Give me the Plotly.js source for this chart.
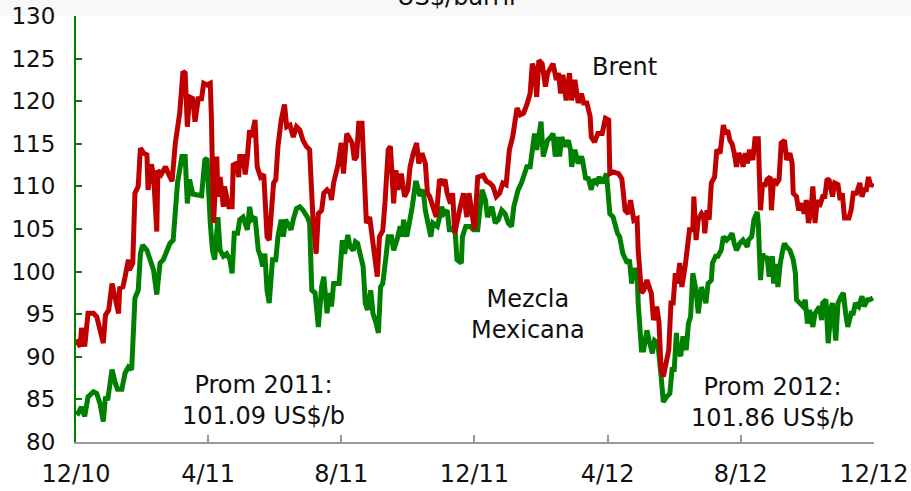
<!DOCTYPE html>
<html>
<head>
<meta charset="utf-8">
<script src="https://cdn.plot.ly/plotly-3.0.1.min.js"></script>
<style>
html,body{margin:0;padding:0;background:#fff;}
#chart{width:911px;height:491px;}
</style>
</head>
<body>
<div id="chart"></div>
<script>
// ---- Data ----
const brentDates = ['2010-12-01','2010-12-05','2010-12-06','2010-12-09','2010-12-12','2010-12-17','2010-12-20','2010-12-23','2010-12-26','2010-12-28','2010-12-31',
'2011-01-03','2011-01-06','2011-01-09','2011-01-10','2011-01-13','2011-01-15','2011-01-18','2011-01-19','2011-01-22','2011-01-24','2011-01-27','2011-01-29',
'2011-02-01','2011-02-04','2011-02-05','2011-02-08','2011-02-10','2011-02-13','2011-02-14','2011-02-17','2011-02-21','2011-02-24','2011-02-27',
'2011-03-02','2011-03-05','2011-03-06','2011-03-09','2011-03-11','2011-03-13','2011-03-15','2011-03-18','2011-03-20','2011-03-23','2011-03-26','2011-03-28','2011-03-31',
'2011-04-03','2011-04-04','2011-04-06','2011-04-09','2011-04-10','2011-04-12','2011-04-15','2011-04-16','2011-04-20','2011-04-23','2011-04-24','2011-04-27','2011-04-29','2011-04-30',
'2011-05-03','2011-05-05','2011-05-07','2011-05-09','2011-05-11','2011-05-14','2011-05-16','2011-05-19','2011-05-22','2011-05-23','2011-05-25','2011-05-27','2011-05-29','2011-05-31',
'2011-06-02','2011-06-04','2011-06-07','2011-06-10','2011-06-12','2011-06-15','2011-06-18','2011-06-21','2011-06-24','2011-06-27','2011-06-30',
'2011-07-03','2011-07-06','2011-07-09','2011-07-11','2011-07-14','2011-07-16','2011-07-19','2011-07-22','2011-07-23','2011-07-25','2011-07-28','2011-07-29',
'2011-08-01','2011-08-03','2011-08-06','2011-08-08','2011-08-11','2011-08-13','2011-08-15','2011-08-17','2011-08-20','2011-08-22','2011-08-24','2011-08-27','2011-08-30',
'2011-09-01','2011-09-03','2011-09-05','2011-09-08','2011-09-10','2011-09-13','2011-09-15','2011-09-18','2011-09-20','2011-09-22','2011-09-25','2011-09-28',
'2011-10-01','2011-10-03','2011-10-06','2011-10-09','2011-10-11','2011-10-14','2011-10-17','2011-10-19','2011-10-21','2011-10-24','2011-10-27','2011-10-30',
'2011-11-02','2011-11-04','2011-11-06','2011-11-09','2011-11-11','2011-11-13','2011-11-16','2011-11-18','2011-11-21','2011-11-24','2011-11-26','2011-11-28',
'2011-12-01','2011-12-04','2011-12-09','2011-12-12','2011-12-15','2011-12-18','2011-12-21','2011-12-24','2011-12-27','2011-12-30',
'2012-01-02','2012-01-05','2012-01-09','2012-01-12','2012-01-15','2012-01-18','2012-01-21','2012-01-23','2012-01-25','2012-01-27','2012-01-29',
'2012-02-01','2012-02-04','2012-02-06','2012-02-08','2012-02-11','2012-02-14','2012-02-16','2012-02-18','2012-02-20','2012-02-23','2012-02-26','2012-02-28',
'2012-03-02','2012-03-05','2012-03-08','2012-03-10','2012-03-13','2012-03-16','2012-03-17','2012-03-20','2012-03-23','2012-03-27','2012-03-30',
'2012-04-02','2012-04-03','2012-04-06','2012-04-11','2012-04-14','2012-04-17','2012-04-20','2012-04-22','2012-04-25','2012-04-28','2012-04-29',
'2012-05-02','2012-05-04','2012-05-07','2012-05-10','2012-05-11','2012-05-13','2012-05-16','2012-05-18','2012-05-20','2012-05-22','2012-05-24','2012-05-27','2012-05-29','2012-05-31',
'2012-06-02','2012-06-04','2012-06-06','2012-06-08','2012-06-11','2012-06-13','2012-06-15','2012-06-18','2012-06-19','2012-06-21','2012-06-23','2012-06-26','2012-06-28','2012-06-29',
'2012-07-01','2012-07-03','2012-07-05','2012-07-08','2012-07-10','2012-07-13','2012-07-16','2012-07-18','2012-07-20','2012-07-22','2012-07-24','2012-07-26','2012-07-28','2012-07-30',
'2012-08-02','2012-08-03','2012-08-05','2012-08-07','2012-08-09','2012-08-12','2012-08-14','2012-08-17','2012-08-19','2012-08-21','2012-08-23','2012-08-25','2012-08-28','2012-08-29','2012-08-31',
'2012-09-03','2012-09-05','2012-09-07','2012-09-10','2012-09-12','2012-09-15','2012-09-17','2012-09-18','2012-09-21','2012-09-23','2012-09-26','2012-09-28','2012-09-30',
'2012-10-02','2012-10-04','2012-10-06','2012-10-08','2012-10-10','2012-10-12','2012-10-15','2012-10-17','2012-10-19','2012-10-21','2012-10-24','2012-10-26','2012-10-29','2012-10-31',
'2012-11-02','2012-11-04','2012-11-08','2012-11-10','2012-11-12','2012-11-15','2012-11-18','2012-11-20','2012-11-22','2012-11-24','2012-11-26','2012-11-28','2012-11-30'];
const brentValues = [92.0,91.2,93.4,91.2,95.1,95.1,94.7,93.1,91.6,94.9,95.5,
98.6,97.0,95.1,98.0,98.2,99.4,101.4,100.2,101.0,109.2,110.0,114.5,
113.9,113.7,109.6,112.6,111.4,104.7,111.9,111.4,112.3,111.4,110.6,
115.1,118.2,118.6,123.5,123.3,117.0,120.5,120.3,117.6,120.3,120.3,122.1,121.9,
122.1,118.2,105.7,113.5,108.8,111.1,107.6,110.0,107.6,107.6,112.5,112.7,111.1,113.5,
113.5,111.4,113.5,116.6,115.8,117.8,112.3,111.1,111.4,108.8,104.1,103.7,107.6,110.4,
110.8,114.7,117.8,119.6,117.0,117.2,115.8,117.0,116.6,115.4,114.7,
114.3,106.4,102.1,106.8,107.2,109.2,109.6,109.2,108.4,110.4,111.9,112.5,
115.1,111.5,116.2,115.8,115.1,113.1,113.5,117.4,117.4,111.5,105.7,106.4,103.3,
101.0,99.4,104.1,104.8,108.0,114.3,114.7,108.0,111.9,109.6,111.5,108.8,
109.6,112.3,113.9,115.1,112.7,113.9,112.7,109.2,108.8,107.6,106.4,110.8,
110.4,110.8,109.2,108.0,109.2,104.5,106.8,107.6,109.2,106.4,109.2,107.2,
104.9,111.1,111.3,110.6,110.4,110.0,108.8,109.2,110.4,110.2,
114.3,115.8,119.2,118.4,118.6,119.6,120.9,124.4,123.7,120.5,124.8,
124.4,121.7,123.3,123.7,124.4,122.5,123.3,120.9,123.1,120.1,123.3,120.1,
122.5,119.8,120.9,119.8,119.8,118.2,115.8,115.2,116.2,116.2,118.0,
117.8,111.5,111.7,111.5,110.9,107.2,106.8,108.4,106.0,106.2,102.5,
97.5,97.8,99.0,97.8,97.5,94.3,95.9,94.1,88.5,87.7,89.3,90.8,96.3,96.3,
99.8,98.6,101.0,98.2,100.6,102.9,104.9,104.9,108.8,103.7,106.1,106.8,106.4,104.5,
107.2,106.1,110.4,111.1,114.3,113.9,117.2,116.2,116.6,115.4,115.0,113.9,112.3,113.9,
113.1,112.3,113.9,112.7,114.3,113.1,115.6,115.6,107.2,110.4,110.0,110.8,111.1,107.2,110.8,
110.4,110.8,115.1,115.4,113.1,113.9,112.7,109.2,108.8,107.2,108.0,106.8,108.4,
105.7,106.8,110.0,105.7,108.4,107.6,108.8,108.8,110.9,110.7,108.8,110.4,110.2,108.4,
109.2,106.3,106.3,107.2,109.2,109.2,110.4,108.8,109.6,109.6,111.1,110.0,110.4];

const mezclaDates = ['2010-12-01','2010-12-03','2010-12-06','2010-12-09','2010-12-12','2010-12-17','2010-12-20','2010-12-23','2010-12-26','2010-12-28','2010-12-30',
'2011-01-03','2011-01-06','2011-01-08','2011-01-12','2011-01-15','2011-01-18','2011-01-21','2011-01-24','2011-01-27','2011-01-29','2011-01-31',
'2011-02-04','2011-02-07','2011-02-10','2011-02-13','2011-02-16','2011-02-19','2011-02-22','2011-02-25','2011-02-28',
'2011-03-02','2011-03-04','2011-03-08','2011-03-11','2011-03-13','2011-03-15','2011-03-18','2011-03-23','2011-03-26','2011-03-29','2011-03-31',
'2011-04-03','2011-04-05','2011-04-07','2011-04-10','2011-04-12','2011-04-15','2011-04-18','2011-04-21','2011-04-23','2011-04-25','2011-04-28','2011-04-30',
'2011-05-03','2011-05-07','2011-05-09','2011-05-11','2011-05-14','2011-05-17','2011-05-19','2011-05-21','2011-05-23','2011-05-25','2011-05-27','2011-05-29','2011-05-30',
'2011-06-02','2011-06-04','2011-06-07','2011-06-09','2011-06-11','2011-06-13','2011-06-16','2011-06-18','2011-06-21','2011-06-24','2011-06-27',
'2011-07-01','2011-07-03','2011-07-05','2011-07-08','2011-07-11','2011-07-13','2011-07-14','2011-07-16','2011-07-19','2011-07-21','2011-07-23','2011-07-25','2011-07-28','2011-07-30',
'2011-08-02','2011-08-04','2011-08-07','2011-08-09','2011-08-12','2011-08-14','2011-08-16','2011-08-19','2011-08-21','2011-08-23','2011-08-25','2011-08-28','2011-08-30',
'2011-09-02','2011-09-04','2011-09-06','2011-09-08','2011-09-11','2011-09-13','2011-09-16','2011-09-18','2011-09-21','2011-09-24','2011-09-26','2011-09-27','2011-09-30',
'2011-10-03','2011-10-05','2011-10-08','2011-10-09','2011-10-12','2011-10-15','2011-10-17','2011-10-19','2011-10-22','2011-10-24','2011-10-28','2011-10-30',
'2011-11-01','2011-11-03','2011-11-06','2011-11-08','2011-11-10','2011-11-13','2011-11-15','2011-11-19','2011-11-20','2011-11-23','2011-11-27','2011-11-30',
'2011-12-04','2011-12-08','2011-12-11','2011-12-13','2011-12-17','2011-12-20','2011-12-23','2011-12-26','2011-12-29',
'2012-01-01','2012-01-04','2012-01-06','2012-01-10','2012-01-13','2012-01-15','2012-01-18','2012-01-21','2012-01-23','2012-01-25','2012-01-27','2012-01-29','2012-01-31',
'2012-02-02','2012-02-05','2012-02-06','2012-02-09','2012-02-11','2012-02-13','2012-02-16','2012-02-17','2012-02-19','2012-02-22','2012-02-25','2012-02-27','2012-02-28',
'2012-03-02','2012-03-05','2012-03-08','2012-03-09','2012-03-12','2012-03-14','2012-03-17','2012-03-19','2012-03-22','2012-03-24','2012-03-27','2012-03-30','2012-03-31',
'2012-04-03','2012-04-06','2012-04-10','2012-04-12','2012-04-15','2012-04-19','2012-04-21','2012-04-23','2012-04-25','2012-04-28','2012-04-29',
'2012-05-02','2012-05-04','2012-05-07','2012-05-09','2012-05-12','2012-05-14','2012-05-17','2012-05-20','2012-05-22','2012-05-25','2012-05-28','2012-05-30',
'2012-06-01','2012-06-03','2012-06-04','2012-06-07','2012-06-09','2012-06-12','2012-06-14','2012-06-16','2012-06-18','2012-06-21','2012-06-23','2012-06-26','2012-06-27','2012-06-30',
'2012-07-02','2012-07-05','2012-07-06','2012-07-09','2012-07-11','2012-07-14','2012-07-16','2012-07-19','2012-07-22','2012-07-24','2012-07-26','2012-07-28','2012-07-31',
'2012-08-03','2012-08-07','2012-08-08','2012-08-11','2012-08-13','2012-08-16','2012-08-17','2012-08-19','2012-08-21','2012-08-23','2012-08-25','2012-08-27','2012-08-30','2012-08-31',
'2012-09-02','2012-09-04','2012-09-06','2012-09-09','2012-09-10','2012-09-12','2012-09-15','2012-09-18','2012-09-20','2012-09-21','2012-09-24','2012-09-27','2012-09-29',
'2012-10-01','2012-10-03','2012-10-06','2012-10-08','2012-10-10','2012-10-12','2012-10-14','2012-10-15','2012-10-18','2012-10-20','2012-10-23','2012-10-24','2012-10-27','2012-10-29',
'2012-11-01','2012-11-03','2012-11-05','2012-11-07','2012-11-10','2012-11-12','2012-11-14','2012-11-17','2012-11-20','2012-11-22','2012-11-25','2012-11-27','2012-11-30'];
const mezclaValues = [83.6,83.4,84.1,83.0,85.3,85.9,85.7,84.5,82.4,85.3,84.9,
88.5,86.9,86.2,86.2,88.1,88.8,88.5,96.9,97.8,102.1,103.1,
102.5,101.4,100.2,97.3,101.0,101.4,102.5,103.3,103.7,
108.0,110.4,113.5,113.5,108.0,110.8,109.1,108.9,108.9,113.1,113.3,
105.7,102.5,101.4,106.4,102.5,101.8,102.1,101.4,99.8,104.5,104.5,106.1,
106.4,104.9,107.6,106.1,106.4,102.5,101.8,100.6,102.1,97.8,96.3,101.0,101.4,
101.4,104.1,106.1,104.1,106.1,105.7,104.9,106.1,107.4,107.6,107.2,
106.4,105.7,97.8,97.5,93.5,96.7,98.2,99.4,95.1,97.5,95.9,98.6,98.6,98.6,
103.7,102.1,104.3,102.9,102.5,103.5,103.3,101.8,100.6,96.3,95.5,97.8,95.1,
93.9,92.8,98.2,98.6,101.8,104.1,104.1,102.5,103.7,105.3,104.1,106.1,104.1,
106.1,107.6,110.4,110.4,108.9,109.6,107.2,106.1,104.1,105.7,105.3,106.4,
107.6,106.8,107.2,104.9,104.9,105.3,101.4,101.0,104.1,105.3,105.3,104.9,
104.9,109.6,108.4,106.4,107.6,105.7,106.1,107.2,106.8,
105.7,105.3,107.6,109.6,110.4,111.1,112.3,112.3,114.3,116.2,114.3,115.8,117.6,
113.5,115.4,115.4,115.8,116.2,113.5,115.8,113.5,115.8,114.7,115.4,114.3,112.3,
114.3,112.7,113.5,113.1,110.8,111.1,109.6,110.8,110.4,111.1,110.4,111.5,111.5,
106.8,106.4,104.5,104.1,102.1,101.0,101.4,98.6,100.2,100.2,96.3,
90.8,90.8,93.1,91.9,90.4,91.9,91.6,87.7,84.7,85.3,85.7,88.5,
88.5,92.8,90.8,90.1,92.4,90.8,93.9,94.7,99.8,97.8,95.1,98.2,97.8,96.3,
98.6,99.0,101.0,101.8,101.8,102.5,104.1,103.7,104.1,104.5,103.3,102.5,103.3,
103.7,102.9,103.7,104.1,106.1,107.0,105.7,99.0,102.1,101.4,101.8,99.4,101.8,98.6,
100.9,98.2,100.9,102.9,103.3,102.9,102.5,101.4,99.8,96.7,96.3,95.9,96.7,
93.9,95.5,93.5,95.1,95.5,95.9,94.3,96.3,96.7,91.6,95.9,96.3,91.9,96.3,
97.1,97.5,95.1,93.5,95.1,95.1,96.3,95.9,97.1,95.9,96.7,96.7,96.9];

const xTickVals = ['2010-12-01','2011-04-01','2011-08-01','2011-12-01','2012-04-01','2012-08-01','2012-12-01'];
const xTickText = ['12/10','4/11','8/11','12/11','4/12','8/12','12/12'];
const yTickVals = [80,85,90,95,100,105,110,115,120,125,130];

const FONT = 'DejaVu Sans, Verdana, sans-serif';

const traces = [
  {x: mezclaDates, y: mezclaValues, type:'scatter', mode:'lines', name:'Mezcla Mexicana',
   line:{color:'#008000', width:5}, hoverinfo:'skip'},
  {x: brentDates, y: brentValues, type:'scatter', mode:'lines', name:'Brent',
   line:{color:'#C00000', width:5}, hoverinfo:'skip'}
];

const annFont = {family: FONT, size: 24, color:'#111'};
const layout = {
  width: 911, height: 491,
  margin: {l:76, r:37, t:16, b:49, pad:0},
  paper_bgcolor:'#ffffff', plot_bgcolor:'#ffffff',
  showlegend:false,
  font:{family:FONT, color:'#111'},
  xaxis:{
    type:'date', range:['2010-12-01','2012-12-01'],
    tickvals:xTickVals, ticktext:xTickText,
    ticks:'inside', ticklen:7, tickwidth:2, tickcolor:'#999',
    showline:true, linecolor:'#999', linewidth:2,
    showgrid:false, zeroline:false,
    tickfont:{family:FONT, size:24, color:'#111'},
    ticklabelstandoff:9
  },
  yaxis:{
    range:[80,130], tickvals:yTickVals,
    ticks:'inside', ticklen:6, tickwidth:2, tickcolor:'#008000',
    showline:true, linecolor:'#008000', linewidth:2,
    showgrid:false, zeroline:false,
    tickfont:{family:FONT, size:23, color:'#111'},
    ticklabelstandoff:14
  },
  shapes:[
    {type:'rect', xref:'paper', yref:'paper', x0:-0.1, x1:1.1, y0:1.0, y1:1.06,
     fillcolor:'#f8f8f8', line:{width:0}, layer:'below'}
  ],
  annotations:[
    {text:'US$/barril', xref:'paper', yref:'paper', x:0.477, y:1.045, showarrow:false,
     font:annFont, xanchor:'center', yanchor:'middle'},
    {text:'Brent', x:'2012-04-16', y:124.0, showarrow:false, font:annFont, xanchor:'center', yanchor:'middle'},
    {text:'Mezcla<br>Mexicana', x:'2012-01-19', y:95.0, showarrow:false, font:annFont, xanchor:'center', yanchor:'middle'},
    {text:'Prom 2011:<br>101.09 US$/b', x:'2011-05-22', y:84.9, showarrow:false, font:annFont, xanchor:'center', yanchor:'middle'},
    {text:'Prom 2012:<br>101.86 US$/b', x:'2012-08-30', y:84.6, showarrow:false, font:annFont, xanchor:'center', yanchor:'middle'}
  ]
};

Plotly.newPlot('chart', traces, layout, {staticPlot:true, displayModeBar:false});
</script>
</body>
</html>
